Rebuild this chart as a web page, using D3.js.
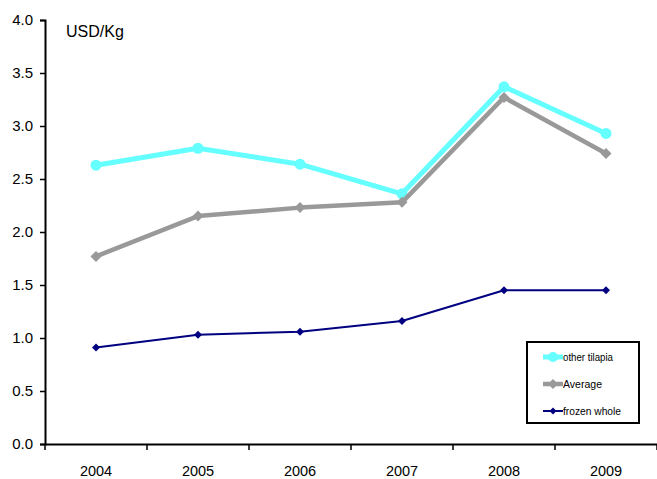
<!DOCTYPE html>
<html>
<head>
<meta charset="utf-8">
<script src="https://cdn.jsdelivr.net/npm/d3@7"></script>
<style>
  html, body { margin: 0; padding: 0; background: #fff; }
  svg { display: block; font-family: Arial, "Liberation Sans", sans-serif; }
</style>
</head>
<body>
<svg id="chart" width="657" height="479"></svg>
<script>
// Tilapia prices by year
const years = ["2004", "2005", "2006", "2007", "2008", "2009"];
const otherTilapia = [2.63, 2.79, 2.64, 2.36, 3.37, 2.93];
const average = [1.77, 2.15, 2.23, 2.28, 3.27, 2.74];
const frozenWhole = [0.91, 1.03, 1.06, 1.16, 1.45, 1.45];
const yTicks = [0, 0.5, 1.0, 1.5, 2.0, 2.5, 3.0, 3.5, 4.0];
const unitLabel = "USD/Kg";

const series = [
  { name: "other tilapia", values: otherTilapia, color: "#66FFFF", width: 5, marker: "circle", size: 5.5 },
  { name: "Average", values: average, color: "#999999", width: 4.5, marker: "diamond", size: 5.5 },
  { name: "frozen whole", values: frozenWhole, color: "#000080", width: 2, marker: "diamond", size: 4 }
];

const svg = d3.select("#chart");
const plotLeft = 45, plotRight = 657, plotTop = 20, plotBottom = 444;

const x = d3.scaleBand().domain(years).range([plotLeft, plotRight]);
const y = d3.scaleLinear().domain([0, 4]).range([plotBottom, plotTop]);

// Y axis
const yAxis = svg.append("g")
  .attr("transform", `translate(${plotLeft},0)`)
  .call(d3.axisLeft(y).tickValues(yTicks).tickFormat(d3.format(".1f")).tickSize(5).tickPadding(7));
yAxis.select(".domain").attr("stroke", "#000").attr("stroke-width", 2);
yAxis.selectAll(".tick line").attr("stroke", "#000").attr("stroke-width", 1.5);
yAxis.selectAll(".tick text").attr("font-size", 15).attr("fill", "#000");

// X axis with ticks at band boundaries
const xAxis = svg.append("g")
  .attr("transform", `translate(0,${plotBottom})`)
  .call(d3.axisBottom(x).tickSize(0).tickPadding(21.5));
xAxis.select(".domain").attr("stroke", "#000").attr("stroke-width", 2);
xAxis.selectAll(".tick text").attr("font-size", 14.5).attr("fill", "#000");
const bounds = years.map(d => x(d)).concat([x(years[years.length - 1]) + x.bandwidth()]);
xAxis.selectAll(".bound").data(bounds).enter().append("line")
  .attr("class", "bound")
  .attr("x1", d => d).attr("x2", d => d)
  .attr("y1", 0).attr("y2", 6)
  .attr("stroke", "#000").attr("stroke-width", 1.5);

svg.append("text")
  .attr("x", 66).attr("y", 37)
  .attr("font-size", 16)
  .text(unitLabel);

const cx = (d, i) => x(years[i]) + x.bandwidth() / 2;
const line = d3.line().x((d, i) => cx(d, i)).y(d => y(d));

function drawMarker(g, type, size, color) {
  if (type === "circle") {
    g.append("circle").attr("r", size).attr("fill", color);
  } else {
    g.append("path")
      .attr("d", `M0,${-size}L${size},0L0,${size}L${-size},0Z`)
      .attr("fill", color);
  }
}

series.forEach(s => {
  svg.append("path")
    .datum(s.values)
    .attr("fill", "none")
    .attr("stroke", s.color)
    .attr("stroke-width", s.width)
    .attr("stroke-linejoin", "round")
    .attr("d", line);
  s.values.forEach((v, i) => {
    const g = svg.append("g").attr("transform", `translate(${cx(v, i)},${y(v)})`);
    drawMarker(g, s.marker, s.size, s.color);
  });
});

// Legend
const legend = svg.append("g");
legend.append("rect")
  .attr("x", 527).attr("y", 342).attr("width", 112).attr("height", 81)
  .attr("fill", "#fff").attr("stroke", "#000").attr("stroke-width", 2);
const legendY = [357, 384, 411];
series.forEach((s, i) => {
  const ly = legendY[i];
  legend.append("line")
    .attr("x1", 543).attr("x2", 563).attr("y1", ly).attr("y2", ly)
    .attr("stroke", s.color).attr("stroke-width", s.width);
  const g = legend.append("g").attr("transform", `translate(553,${ly})`);
  drawMarker(g, s.marker, s.size - 0.5, s.color);
  legend.append("text")
    .attr("x", 563).attr("y", ly + 4)
    .attr("font-size", 11.5)
    .attr("font-family", "'Liberation Sans Narrow', Arial, sans-serif")
    .attr("textLength", i === 1 ? 39 : (i === 0 ? 50 : 58))
    .attr("lengthAdjust", "spacingAndGlyphs")
    .text(s.name);
});
</script>
</body>
</html>
